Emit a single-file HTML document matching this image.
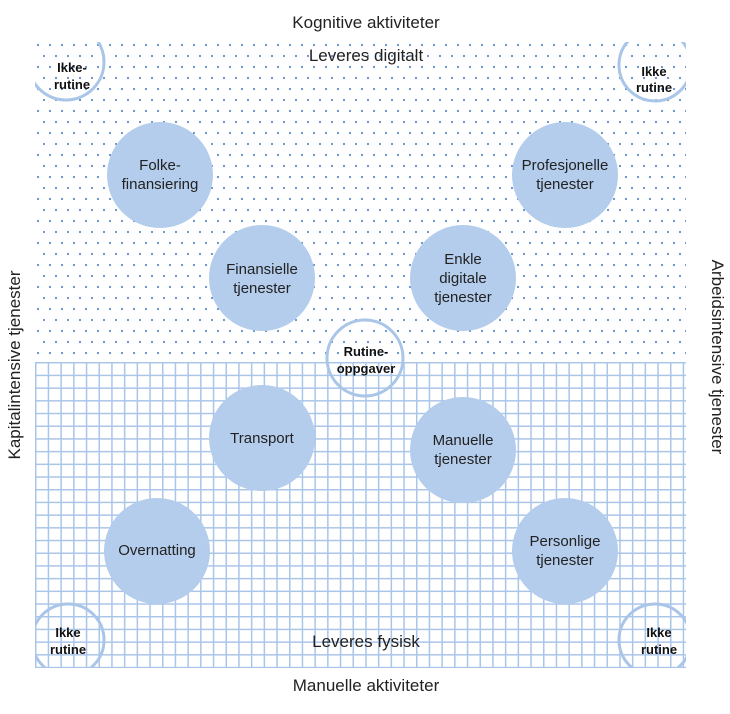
<!DOCTYPE html>
<html><head><meta charset="utf-8"><style>
body{margin:0;background:#fff;}
svg text{font-family:"Liberation Sans",sans-serif;}
</style></head><body>
<svg width="730" height="709" viewBox="0 0 730 709" xmlns="http://www.w3.org/2000/svg">
<defs>
<pattern id="dots" x="35" y="42" width="12" height="22" patternUnits="userSpaceOnUse">
<circle cx="3" cy="3" r="1.1" fill="#5f8fc6"/>
<circle cx="9" cy="14" r="1.1" fill="#5f8fc6"/>
</pattern>
<pattern id="grid" x="35" y="362" width="12.7" height="12.7" patternUnits="userSpaceOnUse">
<path d="M0.5 0V12.7M0 0.5H12.7" stroke="#a9c5e8" stroke-width="2"/>
</pattern>
<clipPath id="cl"><rect x="35" y="42" width="651" height="626"/></clipPath>
</defs>
<rect x="35" y="42" width="651" height="320" fill="url(#dots)"/>
<rect x="35" y="362" width="651" height="306" fill="url(#grid)"/>
<g clip-path="url(#cl)" fill="none" stroke="#a9c5e8" stroke-width="3">
<circle cx="66" cy="62" r="38"/>
<circle cx="655" cy="65" r="36"/>
<circle cx="68" cy="640" r="36"/>
<circle cx="655" cy="640" r="36"/>
</g>
<circle cx="365" cy="358" r="38" fill="none" stroke="#a9c5e8" stroke-width="3"/>
<g fill="#b4cdec">
<circle cx="160" cy="175" r="53"/>
<circle cx="565" cy="175" r="53"/>
<circle cx="262" cy="278" r="53"/>
<circle cx="463" cy="278" r="53"/>
<circle cx="262" cy="438" r="53"/>
<circle cx="463" cy="450" r="53"/>
<circle cx="157" cy="551" r="53"/>
<circle cx="565" cy="551" r="53"/>
</g>
<g font-size="15" fill="#222" text-anchor="middle">
<text x="160" y="170">Folke-</text><text x="160" y="189">finansiering</text>
<text x="565" y="170">Profesjonelle</text><text x="565" y="189">tjenester</text>
<text x="262" y="274">Finansielle</text><text x="262" y="293">tjenester</text>
<text x="463" y="264">Enkle</text><text x="463" y="283">digitale</text><text x="463" y="302">tjenester</text>
<text x="262" y="443">Transport</text>
<text x="463" y="445">Manuelle</text><text x="463" y="464">tjenester</text>
<text x="157" y="555">Overnatting</text>
<text x="565" y="546">Personlige</text><text x="565" y="565">tjenester</text>
</g>
<g font-size="13" font-weight="bold" fill="#111" text-anchor="middle">
<text x="366" y="356">Rutine-</text><text x="366" y="373">oppgaver</text>
<text x="72" y="72">Ikke-</text><text x="72" y="89">rutine</text>
<text x="654" y="76">Ikke</text><text x="654" y="92">rutine</text>
<text x="68" y="637">Ikke</text><text x="68" y="654">rutine</text>
<text x="659" y="637">Ikke</text><text x="659" y="654">rutine</text>
</g>
<g font-size="17" fill="#222" text-anchor="middle">
<text x="366" y="28">Kognitive aktiviteter</text>
<text x="366" y="61">Leveres digitalt</text>
<text x="366" y="647">Leveres fysisk</text>
<text x="366" y="691">Manuelle aktiviteter</text>
<text transform="translate(20,365) rotate(-90)">Kapitalintensive tjenester</text>
<text transform="translate(712,357) rotate(90)">Arbeidsintensive tjenester</text>
</g>
</svg>
</body></html>
